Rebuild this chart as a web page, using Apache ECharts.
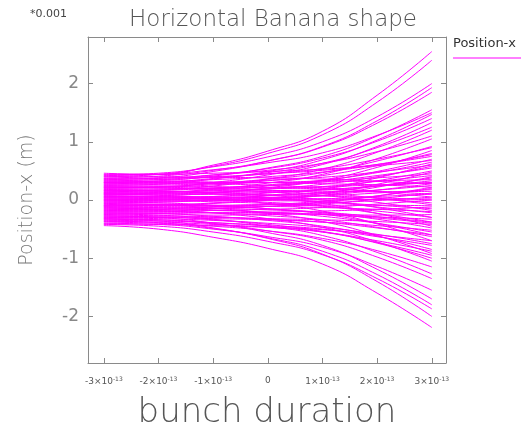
<!DOCTYPE html>
<html>
<head>
<meta charset="utf-8">
<script src="https://cdn.jsdelivr.net/npm/echarts@6/dist/echarts.min.js"></script>
<style>
html,body{margin:0;padding:0;background:#fff;}
#chart{width:522px;height:431px;}
</style>
</head>
<body>
<div id="chart"></div>
<script>
// bunch position, in units of 1e-13 s
const timeSteps = [-3, -2, -1, 0, 1, 2, 3];
const xTickValues = [-3, -2, -1, 0, 1, 2, 3];
const yTickValues = [-2, -1, 0, 1, 2];
const seriesName = 'Position-x';
// Position-x (units of 0.001 m), one row per particle, at timeSteps
const trajectories = [
  [0.46, 0.44, 0.60, 0.84, 1.18, 1.80, 2.55],
  [0.40, 0.44, 0.58, 0.80, 1.12, 1.68, 2.40],
  [0.43, 0.46, 0.57, 0.74, 1.00, 1.43, 2.00],
  [0.35, 0.38, 0.49, 0.67, 0.92, 1.36, 1.93],
  [0.38, 0.41, 0.51, 0.67, 0.91, 1.32, 1.85],
  [0.30, 0.33, 0.41, 0.55, 0.75, 1.10, 1.55],
  [0.42, 0.44, 0.52, 0.64, 0.81, 1.11, 1.50],
  [0.25, 0.27, 0.36, 0.49, 0.69, 1.03, 1.47],
  [0.33, 0.35, 0.43, 0.54, 0.72, 1.01, 1.40],
  [0.20, 0.22, 0.30, 0.43, 0.61, 0.92, 1.33],
  [0.28, 0.30, 0.37, 0.47, 0.63, 0.90, 1.25],
  [0.15, 0.17, 0.24, 0.36, 0.53, 0.82, 1.20],
  [0.36, 0.37, 0.43, 0.51, 0.63, 0.83, 1.10],
  [0.10, 0.12, 0.19, 0.29, 0.44, 0.71, 1.05],
  [0.22, 0.23, 0.28, 0.36, 0.47, 0.67, 0.92],
  [0.05, 0.07, 0.12, 0.21, 0.34, 0.56, 0.85],
  [0.31, 0.32, 0.35, 0.40, 0.48, 0.61, 0.78],
  [0.12, 0.13, 0.17, 0.24, 0.33, 0.49, 0.70],
  [-0.05, -0.04, 0.01, 0.08, 0.19, 0.38, 0.62],
  [0.18, 0.19, 0.21, 0.25, 0.31, 0.42, 0.55],
  [0.02, 0.03, 0.06, 0.12, 0.19, 0.33, 0.50],
  [0.26, 0.26, 0.28, 0.30, 0.33, 0.38, 0.45],
  [-0.10, -0.09, -0.06, 0.00, 0.08, 0.22, 0.40],
  [0.08, 0.09, 0.10, 0.13, 0.17, 0.24, 0.33],
  [0.40, 0.40, 0.39, 0.38, 0.36, 0.32, 0.28],
  [-0.15, -0.14, -0.12, -0.08, -0.02, 0.07, 0.20],
  [0.14, 0.15, 0.13, 0.14, 0.15, 0.14, 0.15],
  [-0.02, -0.02, -0.01, 0.00, 0.02, 0.06, 0.10],
  [0.30, 0.30, 0.28, 0.25, 0.21, 0.14, 0.05],
  [-0.20, -0.20, -0.18, -0.16, -0.13, -0.07, 0.00],
  [0.06, 0.06, 0.05, 0.04, 0.02, 0.01, -0.05],
  [-0.08, -0.07, -0.09, -0.08, -0.09, -0.09, -0.10],
  [0.22, 0.21, 0.18, 0.14, 0.08, -0.04, -0.18],
  [-0.25, -0.24, -0.26, -0.25, -0.24, -0.26, -0.25],
  [0.00, -0.01, -0.03, -0.06, -0.11, -0.19, -0.30],
  [-0.12, -0.13, -0.14, -0.17, -0.21, -0.29, -0.38],
  [0.16, 0.15, 0.11, 0.04, -0.06, -0.23, -0.45],
  [-0.30, -0.30, -0.32, -0.34, -0.38, -0.44, -0.52],
  [-0.04, -0.05, -0.09, -0.15, -0.24, -0.40, -0.60],
  [-0.18, -0.19, -0.22, -0.27, -0.34, -0.47, -0.63],
  [0.10, 0.08, 0.03, -0.06, -0.19, -0.41, -0.70],
  [-0.35, -0.36, -0.39, -0.44, -0.50, -0.63, -0.78],
  [-0.22, -0.23, -0.28, -0.35, -0.45, -0.62, -0.85],
  [-0.06, -0.08, -0.14, -0.23, -0.37, -0.61, -0.92],
  [-0.28, -0.29, -0.34, -0.42, -0.54, -0.74, -1.00],
  [-0.14, -0.16, -0.22, -0.32, -0.47, -0.72, -1.05],
  [-0.38, -0.40, -0.45, -0.53, -0.66, -0.87, -1.15],
  [-0.24, -0.26, -0.33, -0.45, -0.61, -0.90, -1.27],
  [-0.32, -0.34, -0.41, -0.53, -0.69, -0.98, -1.35],
  [-0.40, -0.42, -0.50, -0.63, -0.81, -1.14, -1.55],
  [-0.27, -0.30, -0.40, -0.56, -0.78, -1.19, -1.70],
  [-0.36, -0.39, -0.49, -0.65, -0.88, -1.28, -1.80],
  [-0.42, -0.45, -0.55, -0.71, -0.94, -1.35, -1.87],
  [-0.33, -0.36, -0.48, -0.66, -0.93, -1.40, -2.00],
  [-0.44, -0.50, -0.64, -0.83, -1.10, -1.60, -2.19],
  [0.04, 0.04, 0.06, 0.08, 0.12, 0.17, 0.25],
  [-0.09, -0.09, -0.10, -0.11, -0.13, -0.16, -0.20],
  [0.19, 0.19, 0.20, 0.21, 0.23, 0.26, 0.30],
  [-0.16, -0.17, -0.18, -0.21, -0.25, -0.31, -0.40],
  [0.27, 0.28, 0.30, 0.34, 0.39, 0.48, 0.60],
  [-0.26, -0.27, -0.29, -0.33, -0.38, -0.48, -0.60],
  [0.11, 0.11, 0.10, 0.09, 0.07, 0.04, 0.00],
  [-0.01, 0.00, 0.03, 0.07, 0.13, 0.24, 0.38],
  [0.34, 0.35, 0.39, 0.45, 0.54, 0.70, 0.90],
  [-0.33, -0.34, -0.39, -0.45, -0.55, -0.73, -0.95],
  [0.24, 0.24, 0.23, 0.21, 0.19, 0.15, 0.10],
  [-0.19, -0.18, -0.15, -0.11, -0.04, 0.07, 0.22],
  [0.03, 0.03, 0.01, -0.01, -0.03, -0.09, -0.15],
  [-0.11, -0.11, -0.10, -0.08, -0.05, -0.01, 0.05],
  [0.17, 0.16, 0.13, 0.08, 0.00, -0.13, -0.30],
  [0.44, 0.44, 0.46, 0.49, 0.53, 0.59, 0.68],
  [-0.41, -0.42, -0.44, -0.47, -0.51, -0.60, -0.70],
  [0.09, 0.10, 0.13, 0.19, 0.27, 0.40, 0.58],
  [-0.07, -0.08, -0.11, -0.15, -0.22, -0.33, -0.48],
  [0.21, 0.22, 0.26, 0.33, 0.42, 0.59, 0.80],
  [-0.21, -0.21, -0.22, -0.23, -0.25, -0.29, -0.33],
  [0.13, 0.14, 0.16, 0.19, 0.23, 0.32, 0.42],
  [0.01, 0.01, 0.03, 0.04, 0.07, 0.12, 0.18],
  [-0.13, -0.14, -0.17, -0.21, -0.28, -0.40, -0.55],
  [0.29, 0.29, 0.30, 0.30, 0.31, 0.33, 0.35],
  [-0.03, -0.02, 0.00, 0.03, 0.08, 0.17, 0.28],
  [0.07, 0.06, 0.04, 0.01, -0.03, -0.12, -0.22],
  [-0.29, -0.29, -0.30, -0.32, -0.34, -0.37, -0.42],
  [0.37, 0.38, 0.40, 0.45, 0.51, 0.61, 0.75],
  [-0.17, -0.16, -0.14, -0.11, -0.07, 0.02, 0.12],
  [0.23, 0.22, 0.20, 0.17, 0.12, 0.03, -0.08],
  [-0.37, -0.38, -0.42, -0.47, -0.55, -0.70, -0.88],
  [0.16, 0.17, 0.20, 0.26, 0.34, 0.47, 0.65],
  [-0.23, -0.23, -0.22, -0.21, -0.19, -0.16, -0.12],
  [0.05, 0.04, 0.01, -0.04, -0.10, -0.23, -0.38],
  [-0.10, -0.09, -0.05, 0.02, 0.11, 0.27, 0.48],
  [0.32, 0.32, 0.31, 0.30, 0.28, 0.26, 0.22],
  [-0.31, -0.32, -0.35, -0.40, -0.47, -0.59, -0.75],
  [0.00, 0.01, 0.00, 0.01, 0.00, 0.01, 0.02],
  [0.12, 0.12, 0.14, 0.16, 0.18, 0.24, 0.30]
];

const lineColor = '#ff00ff';
const frameColor = '#8a8a8a';
const font = '"DejaVu Sans", sans-serif';

const chart = echarts.init(document.getElementById('chart'), null, {renderer: 'canvas'});

function xLabel(v) {
  if (xTickValues.indexOf(v) < 0) return '';
  if (v === 0) return '{n|0}';
  return '{n|' + v + '×10}{s|-13}';
}
function yLabel(v) {
  if (yTickValues.indexOf(v) < 0) return '';
  return String(v);
}

const series = trajectories.map(function (row) {
  return {
    name: seriesName,
    type: 'line',
    data: row.map(function (y, i) { return [timeSteps[i], y]; }),
    showSymbol: false,
    symbol: 'none',
    smooth: 0.5,
    lineStyle: {color: lineColor, width: 1},
    itemStyle: {color: lineColor},
    emphasis: {disabled: true},
    silent: true,
    animation: false,
    z: 1
  };
});

const axisCommon = {
  type: 'value',
  axisLine: {show: true, onZero: false, lineStyle: {color: frameColor, width: 1}},
  axisTick: {show: true, inside: true, length: 5, lineStyle: {color: frameColor}},
  splitLine: {show: false}
};

chart.setOption({
  animation: false,
  backgroundColor: '#ffffff',
  grid: {left: 88, right: 76, top: 37, bottom: 68, containLabel: false, outerBoundsMode: 'none'},
  title: {
    text: 'Horizontal Banana shape',
    left: 268, top: 4, textAlign: 'center',
    textStyle: {fontFamily: font, fontSize: 23, fontWeight: 'lighter', color: '#555'}
  },
  xAxis: [
    Object.assign({}, axisCommon, {
      position: 'bottom', min: -3.29, max: 3.26, splitNumber: 7,
      axisLabel: {
        show: true, margin: 13, showMinLabel: false, showMaxLabel: false,
        formatter: xLabel,
        rich: {
          n: {fontFamily: font, fontSize: 9, color: '#555'},
          s: {fontFamily: font, fontSize: 6, color: '#555', verticalAlign: 'top', padding: [0, 0, 6, 0]}
        }
      },
      name: 'bunch duration', nameLocation: 'middle', nameGap: 33,
      nameTextStyle: {fontFamily: font, fontSize: 34, fontWeight: 'lighter', color: '#555'}
    }),
    Object.assign({}, axisCommon, {
      position: 'top', min: -3.29, max: 3.26, splitNumber: 7,
      axisLabel: {show: false}
    })
  ],
  yAxis: [
    Object.assign({}, axisCommon, {
      position: 'left', min: -2.8, max: 2.8, splitNumber: 6,
      axisLabel: {
        show: true, margin: 9, showMinLabel: false, showMaxLabel: false,
        formatter: yLabel,
        fontFamily: font, fontSize: 17, color: '#888'
      },
      name: 'Position-x (m)', nameLocation: 'middle', nameGap: 51, nameRotate: 90,
      nameTextStyle: {fontFamily: font, fontSize: 19, fontWeight: 'lighter', color: '#777'}
    }),
    Object.assign({}, axisCommon, {
      position: 'right', min: -2.8, max: 2.8, splitNumber: 6,
      axisLabel: {show: false}
    })
  ],
  graphic: [
    {type: 'text', left: 30, top: 9, style: {text: '*0.001', fontFamily: font, fontSize: 11, fill: '#444'}},
    {type: 'text', left: 453, top: 37, style: {text: 'Position-x', fontFamily: font, fontSize: 13, fill: '#333'}},
    {type: 'line', shape: {x1: 453, y1: 58, x2: 521, y2: 58}, style: {stroke: lineColor, lineWidth: 1}}
  ],
  series: series
});
</script>
</body>
</html>
